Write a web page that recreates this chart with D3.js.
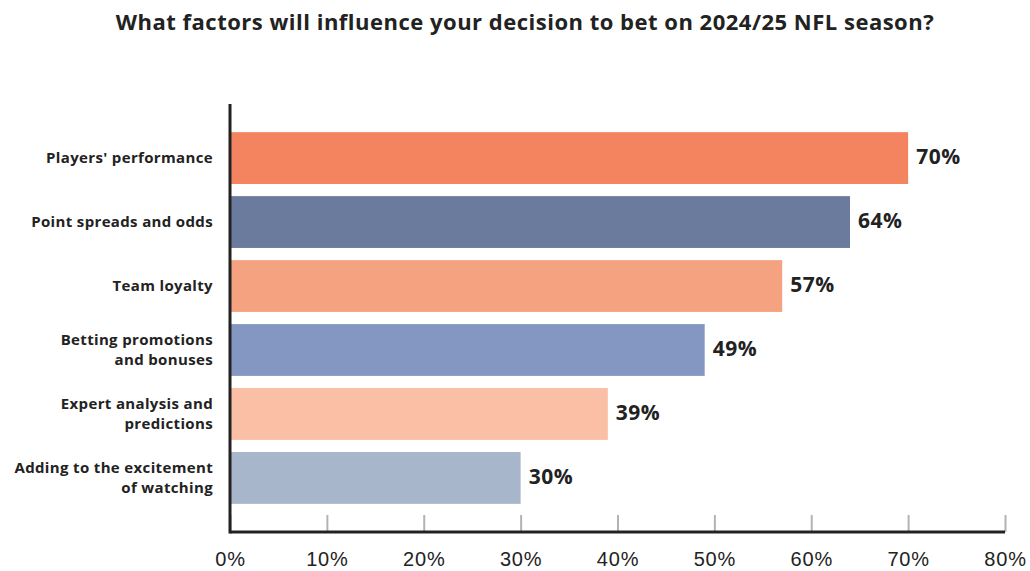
<!DOCTYPE html>
<html lang="en">
<head>
  <meta charset="UTF-8">
  <title>NFL betting factors</title>
  <script src="https://d3js.org/d3.v7.min.js"></script>
  <style>
    body {
      margin: 0;
      padding: 0;
      background: #fff;
      font-family: "Open Sans", Lato, sans-serif;
    }
    .title {
      font-size: 22px;
      font-weight: 700;
      letter-spacing: 0.5px;
      fill: #222;
    }
    .cat-label {
      font-size: 15px;
      font-weight: 700;
      letter-spacing: 0.35px;
      fill: #222;
    }
    .value-label {
      font-size: 21px;
      font-weight: 700;
      letter-spacing: 0.5px;
      fill: #222;
    }
    .x-axis text {
      font-size: 20px;
      letter-spacing: 0.8px;
      fill: #222;
    }
  </style>
</head>
<body>
  <div id="chart"></div>

  <script>
    // Data
    const categories = [
      ["Players' performance"],
      ["Point spreads and odds"],
      ["Team loyalty"],
      ["Betting promotions", "and bonuses"],
      ["Expert analysis and", "predictions"],
      ["Adding to the excitement", "of watching"]
    ];
    const values = [70, 64, 57, 49, 39, 30];
    const barColors = ["#f4845f", "#6b7b9e", "#f5a281", "#8497c2", "#fabfa5", "#a8b6cc"];
    const xTicks = [0, 10, 20, 30, 40, 50, 60, 70, 80];

    const width = 1030;
    const height = 571;
    const margin = { top: 104, right: 25, bottom: 39, left: 230 };

    const data = values.map((v, i) => ({ id: i, lines: categories[i], value: v, color: barColors[i] }));

    const svg = d3.select("#chart")
      .append("svg")
      .attr("width", width)
      .attr("height", height);

    svg.append("text")
      .attr("class", "title")
      .attr("x", 525)
      .attr("y", 30)
      .attr("text-anchor", "middle")
      .text("What factors will influence your decision to bet on 2024/25 NFL season?");

    // Scales
    const xScale = d3.scaleLinear()
      .domain([0, 80])
      .range([margin.left, width - margin.right]);

    const yScale = d3.scaleBand()
      .domain(data.map(d => d.id))
      .range([margin.top, height - margin.bottom])
      .paddingInner(0.19)
      .paddingOuter(0.44);

    // Bars
    svg.selectAll(".bar")
      .data(data)
      .enter()
      .append("rect")
      .attr("class", "bar")
      .attr("x", xScale(0))
      .attr("y", d => yScale(d.id))
      .attr("width", d => xScale(d.value) - xScale(0))
      .attr("height", yScale.bandwidth())
      .attr("fill", d => d.color);

    // Value labels
    svg.selectAll(".value-label")
      .data(data)
      .enter()
      .append("text")
      .attr("class", "value-label")
      .attr("x", d => xScale(d.value) + 8)
      .attr("y", d => yScale(d.id) + yScale.bandwidth() / 2)
      .attr("dy", "0.27em")
      .text(d => d.value + "%");

    // Category labels (one or two lines)
    const lineH = 20;
    const labels = svg.selectAll(".cat-label")
      .data(data)
      .enter()
      .append("text")
      .attr("class", "cat-label")
      .attr("text-anchor", "end")
      .attr("x", margin.left - 17)
      .attr("y", d => yScale(d.id) + yScale.bandwidth() / 2 - (d.lines.length - 1) * lineH / 2);

    labels.selectAll("tspan")
      .data(d => d.lines)
      .enter()
      .append("tspan")
      .attr("x", margin.left - 17)
      .attr("dy", (d, i) => i === 0 ? "0.36em" : lineH)
      .text(d => d);

    // X axis
    const xAxis = d3.axisBottom(xScale)
      .tickValues(xTicks)
      .tickFormat(d => d + "%")
      .tickSize(0)
      .tickPadding(20);

    const gx = svg.append("g")
      .attr("class", "x-axis")
      .attr("transform", `translate(0, ${height - margin.bottom})`)
      .call(xAxis);

    gx.select(".domain").remove();
    gx.selectAll("text").attr("font-family", null);

    // inward ticks
    gx.selectAll(".tick")
      .append("line")
      .attr("y1", -17)
      .attr("y2", 0)
      .attr("stroke", "#b3b3b3")
      .attr("stroke-width", 2);

    gx.append("line")
      .attr("x1", xScale(0))
      .attr("x2", xScale(80))
      .attr("stroke", "#222")
      .attr("stroke-width", 3);

    // Y axis line
    svg.append("line")
      .attr("x1", xScale(0))
      .attr("x2", xScale(0))
      .attr("y1", margin.top)
      .attr("y2", height - margin.bottom + 1.5)
      .attr("stroke", "#222")
      .attr("stroke-width", 3);
  </script>
</body>
</html>
